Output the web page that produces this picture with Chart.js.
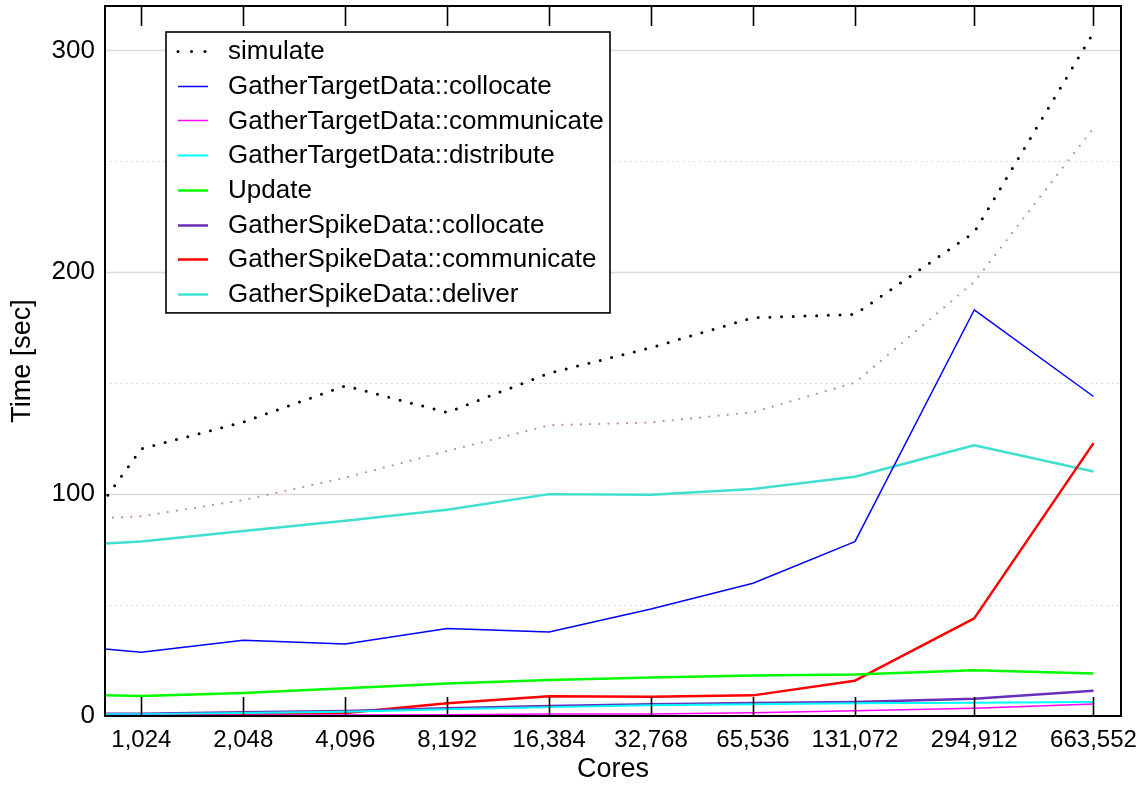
<!DOCTYPE html>
<html>
<head>
<meta charset="utf-8">
<title>Time per phase vs. cores</title>
<script src="https://cdn.jsdelivr.net/npm/chart.js@4.4.1/dist/chart.umd.min.js"></script>
<style>
  html, body { margin: 0; padding: 0; background: #ffffff; }
  #wrap { width: 1147px; height: 787px; position: relative; }
</style>
</head>
<body>
<div id="wrap"><canvas id="chart"></canvas></div>
<script>
// Core counts of the runs (the 512-core run lies left of the visible range)
const cores = [512, 1024, 2048, 4096, 8192, 16384, 32768, 65536, 131072, 294912, 663552];
const coreTicks = [1024, 2048, 4096, 8192, 16384, 32768, 65536, 131072, 294912, 663552];
const timeTicks = [0, 100, 200, 300];
const timeMinorGrid = [50, 150, 250];

// Wall-clock times in seconds
const simulate            = [56.7, 120.4, 132.5, 148.8, 136.8, 154.5, 166.0, 179.5, 181.0, 218.0, 308.0];
const gtdCollocate        = [32.9, 28.7, 34.1, 32.5, 39.4, 37.9, 48.2, 59.8, 78.6, 183.0, 144.0];
const gtdCommunicate      = [0.2, 0.2, 0.3, 0.4, 0.6, 0.9, 0.9, 1.5, 2.4, 3.5, 5.4];
const gtdDistribute       = [0.7, 0.8, 1.3, 1.9, 3.0, 4.0, 4.8, 5.3, 5.7, 6.0, 6.3];
const update              = [9.85, 9.0, 10.4, 12.5, 14.7, 16.2, 17.3, 18.2, 18.7, 20.6, 19.1];
const gsdCollocate        = [1.0, 1.0, 1.7, 2.3, 3.5, 4.5, 5.3, 5.9, 6.3, 7.8, 11.4];
const gsdCommunicate      = [0.4, 0.6, 0.9, 1.3, 5.7, 8.9, 8.7, 9.3, 15.9, 44.0, 123.0];
const gsdDeliver          = [76.2, 78.6, 83.4, 88.0, 93.0, 100.0, 99.7, 102.3, 107.8, 122.0, 110.2];
const unlabeledTotal      = [87.8, 90.0, 97.3, 107.4, 119.4, 131.0, 132.3, 136.9, 150.2, 195.6, 265.0];

const FONT = '"Liberation Sans", Arial, Helvetica, sans-serif';

const seriesDefs = [
  { label: 'simulate',                   values: simulate,       color: '#000000', width: 3,   dash: [0, 11.7], key: true },
  { label: 'GatherTargetData::collocate',   values: gtdCollocate,   color: '#0000ff', width: 1.5, dash: [],        key: true },
  { label: 'GatherTargetData::communicate', values: gtdCommunicate, color: '#ff00ff', width: 1.5, dash: [],        key: true },
  { label: 'GatherTargetData::distribute',  values: gtdDistribute,  color: '#00ffff', width: 2,   dash: [],        key: true },
  { label: 'Update',                     values: update,         color: '#00ff00', width: 2.5, dash: [],        key: true },
  { label: 'GatherSpikeData::collocate',    values: gsdCollocate,   color: '#6a2fba', width: 2.5, dash: [],        key: true },
  { label: 'GatherSpikeData::communicate',  values: gsdCommunicate, color: '#ff0000', width: 2.5, dash: [],        key: true },
  { label: 'GatherSpikeData::deliver',      values: gsdDeliver,     color: '#40e0d0', width: 2.5, dash: [],        key: true },
  { label: 'total',                      values: unlabeledTotal, color: '#bc8f8f', width: 2.2, dash: [0, 9.2],  key: false }
];

const datasets = seriesDefs.map(s => ({
  label: s.label,
  data: cores.map((c, i) => ({ x: c, y: s.values[i] })),
  borderColor: s.color,
  backgroundColor: s.color,
  borderWidth: s.width,
  borderDash: s.dash,
  borderCapStyle: s.dash.length ? 'round' : 'butt',
  borderJoinStyle: 'round',
  pointRadius: 0,
  fill: false,
  tension: 0,
  showInKey: s.key
}));

// Solid grid at labelled ticks, dotted grid halfway between them
const gridPlugin = {
  id: 'timeGrid',
  beforeDatasetsDraw(chart) {
    const { ctx, chartArea: a, scales: { y } } = chart;
    ctx.save();
    ctx.lineWidth = 1.5;
    ctx.strokeStyle = '#d9d9d9';
    timeTicks.forEach(v => {
      if (v === 0) return;
      const py = Math.round(y.getPixelForValue(v)) + 0.5;
      ctx.beginPath(); ctx.moveTo(a.left, py); ctx.lineTo(a.right, py); ctx.stroke();
    });
    ctx.lineWidth = 1;
    ctx.strokeStyle = '#cfcfcf';
    ctx.setLineDash([1.5, 3.8]);
    timeMinorGrid.forEach(v => {
      const py = Math.round(y.getPixelForValue(v)) + 0.5;
      ctx.beginPath(); ctx.moveTo(a.left, py); ctx.lineTo(a.right, py); ctx.stroke();
    });
    ctx.restore();
  }
};

// Plot frame plus inward tick marks on the top and bottom edges
const framePlugin = {
  id: 'plotFrame',
  afterDatasetsDraw(chart) {
    const { ctx, chartArea: a, scales: { x } } = chart;
    ctx.save();
    ctx.strokeStyle = '#000000';
    ctx.lineWidth = 1.6;
    coreTicks.forEach(v => {
      const px = Math.round(x.getPixelForValue(v)) + 0.5;
      ctx.beginPath(); ctx.moveTo(px, a.bottom); ctx.lineTo(px, a.bottom - 19); ctx.stroke();
      ctx.beginPath(); ctx.moveTo(px, a.top); ctx.lineTo(px, a.top + 20); ctx.stroke();
    });
    ctx.lineWidth = 2;
    ctx.strokeRect(a.left, a.top, a.right - a.left, a.bottom - a.top);
    ctx.restore();
  }
};

// Boxed key in the upper-left corner of the plot
const keyPlugin = {
  id: 'keyBox',
  afterDraw(chart) {
    const { ctx, chartArea: a } = chart;
    const items = chart.data.datasets.filter(d => d.showInKey);
    const left = a.left + 61, top = a.top + 26, width = 444, rowH = 34.7, firstRow = 19;
    const height = firstRow + (items.length - 1) * rowH + 19;
    ctx.save();
    ctx.fillStyle = '#ffffff';
    ctx.fillRect(left, top, width, height);
    ctx.strokeStyle = '#000000';
    ctx.lineWidth = 1.6;
    ctx.strokeRect(left, top, width, height);
    ctx.font = '26px ' + FONT;
    ctx.textBaseline = 'middle';
    ctx.textAlign = 'left';
    items.forEach((d, i) => {
      const cy = top + firstRow + i * rowH;
      ctx.beginPath();
      ctx.strokeStyle = d.borderColor;
      ctx.lineWidth = d.borderWidth;
      if (d.borderDash.length) {
        ctx.setLineDash([0, 13.5]);
        ctx.lineCap = 'round';
      } else {
        ctx.setLineDash([]);
        ctx.lineCap = 'butt';
      }
      const ly = Math.round(cy) + 0.5;
      ctx.moveTo(left + 12, ly);
      ctx.lineTo(left + 42, ly);
      ctx.stroke();
      ctx.fillStyle = '#000000';
      ctx.fillText(d.label, left + 62, cy + 1);
    });
    ctx.restore();
  }
};

new Chart(document.getElementById('chart'), {
  type: 'line',
  data: { datasets },
  plugins: [gridPlugin, framePlugin, keyPlugin],
  options: {
    responsive: true,
    maintainAspectRatio: false,
    animation: false,
    devicePixelRatio: 1,
    layout: { padding: { left: 0, top: 6, right: 26, bottom: 0 } },
    plugins: { legend: { display: false }, tooltip: { enabled: false } },
    scales: {
      x: {
        type: 'logarithmic',
        min: 800,
        max: 800000,
        afterBuildTicks: s => { s.ticks = coreTicks.map(v => ({ value: v })); },
        afterFit: s => { s.height = 71; s.paddingLeft = 0; s.paddingRight = 0; },
        grid: { display: false, drawTicks: false },
        border: { display: false },
        ticks: {
          autoSkip: false, maxRotation: 0, minRotation: 0, padding: 10,
          color: '#000000', font: { family: FONT, size: 24 },
          callback: v => Number(v).toLocaleString('en-US')
        },
        title: { display: true, text: 'Cores', color: '#000000', font: { family: FONT, size: 27 }, padding: { top: 0, bottom: 1 } }
      },
      y: {
        min: 0,
        max: 320,
        afterBuildTicks: s => { s.ticks = timeTicks.map(v => ({ value: v })); },
        afterFit: s => { s.width = 105; s.paddingTop = 0; s.paddingBottom = 0; },
        grid: { display: false, drawTicks: false },
        border: { display: false },
        ticks: { padding: 10, color: '#000000', font: { family: FONT, size: 26 } },
        title: { display: true, text: 'Time [sec]', color: '#000000', font: { family: FONT, size: 27 }, padding: { top: 6, bottom: 0 } }
      }
    }
  }
});
</script>
</body>
</html>
